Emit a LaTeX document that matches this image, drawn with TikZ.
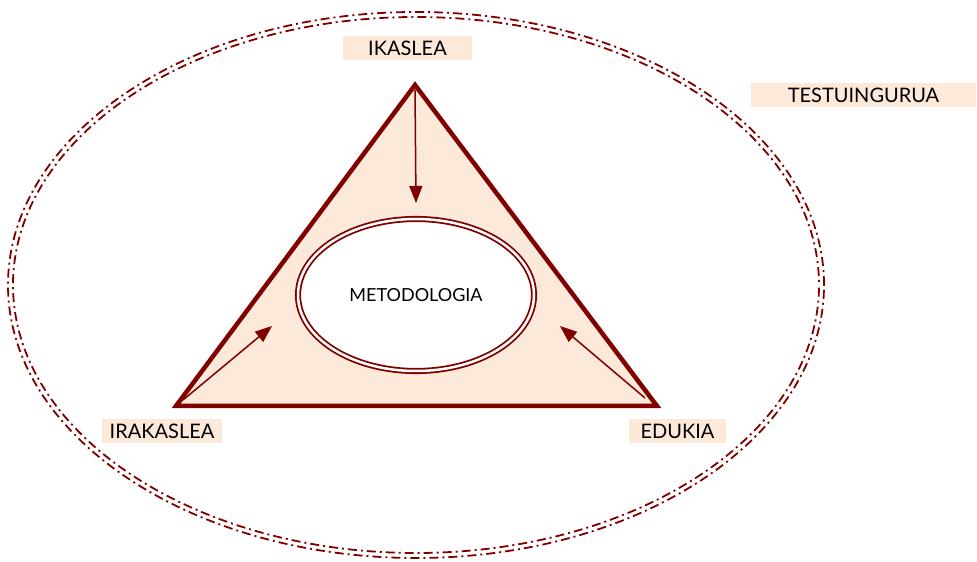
\documentclass[tikz,border=0pt]{standalone}
\usepackage{fontspec}
\setmainfont{Lato}
\usetikzlibrary{shapes.geometric,arrows.meta}
\definecolor{burdeos}{RGB}{128,0,0}
\definecolor{melokoi}{RGB}{253,233,217}
\tikzset{
  etiketa/.style={fill=melokoi,minimum height=24pt,inner sep=0pt,font=\fontsize{20}{24}\selectfont},
  gezia/.style={burdeos,line width=1.5pt,-{Triangle[length=17pt,width=13pt]}},
  marra/.style={burdeos,line width=1.8pt,dash pattern=on 9pt off 4pt on 2pt off 4pt},
}
\begin{document}
\begin{tikzpicture}[x=1pt,y=1pt]
  \useasboundingbox (0,0) rectangle (977,562);
  % testuingurua
  \draw[marra] (416,277) ellipse [x radius=408,y radius=273];
  \draw[marra,dash phase=10pt] (416,277) ellipse [x radius=403,y radius=268];
  % triangelua
  \coordinate (goi) at (415,477);
  \coordinate (ezk) at (176,156);
  \coordinate (esk) at (657,156);
  \draw[burdeos,fill=melokoi,line width=4.5pt,line join=miter] (goi) -- (ezk) -- (esk) -- cycle;
  \node[ellipse,draw=burdeos,fill=white,line width=1.8pt,double=white,double distance=2.5pt,
        minimum width=236pt,minimum height=152pt,font=\fontsize{18}{22}\selectfont] (metodologia) at (416,267) {METODOLOGIA};
  % geziak
  \coordinate (goi1) at (415,472);
  \coordinate (ezk1) at (183,162);
  \coordinate (esk1) at (645,164);
  \draw[gezia] (goi1) -- (metodologia.north |- 0,359);
  \draw[gezia] (ezk1) -- (272,236);
  \draw[gezia] (esk1) -- (560,236);
  % etiketak
  \node[etiketa,minimum width=129pt] (ikaslea) at (407.5,514) {IKASLEA};
  \node[etiketa,minimum width=225pt] (testuingurua) at (863.5,467) {TESTUINGURUA};
  \node[etiketa,minimum width=120pt] (irakaslea) at (162,131) {IRAKASLEA};
  \node[etiketa,minimum width=97pt] (edukia) at (677.5,131) {EDUKIA};
\end{tikzpicture}
\end{document}
